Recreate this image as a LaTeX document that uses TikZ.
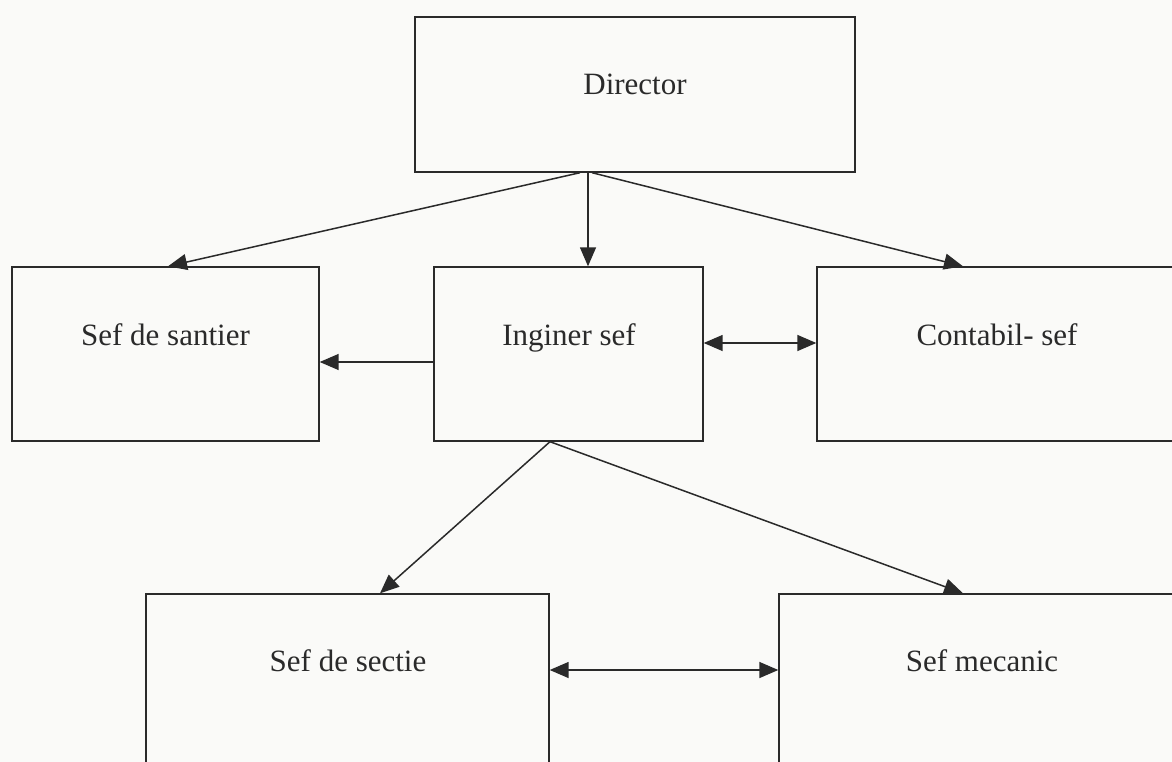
\documentclass[tikz,border=0pt]{standalone}
\usepackage{fontspec}
\setmainfont{Liberation Serif}
\usetikzlibrary{arrows.meta}
\definecolor{ink}{HTML}{2A2A2A}
\definecolor{paper}{HTML}{FAFAF8}
\begin{document}
\begin{tikzpicture}[x=1pt,y=-1pt,
  box/.style={draw=ink,line width=1.4pt,rectangle,inner sep=0pt},
  lbl/.style={anchor=base,inner sep=0pt,text=ink,font=\fontsize{31}{37}\selectfont},
  arr/.style={draw=ink,line width=1.5pt,-{Triangle[length=19pt,width=16pt]}},
  darr/.style={draw=ink,line width=1.5pt,{Triangle[length=19pt,width=16pt]}-{Triangle[length=19pt,width=16pt]}}]
\clip (0,0) rectangle (1172,762);
\fill[paper] (0,0) rectangle (1172,762);
% boxes
\node[box,minimum width=440pt,minimum height=155pt] (dir) at (635,94.5) {};
\node[box,minimum width=307pt,minimum height=174pt] (san) at (165.5,354) {};
\node[box,minimum width=269pt,minimum height=174pt] (ing) at (568.5,354) {};
\node[box,minimum width=360pt,minimum height=174pt] (con) at (997,354) {};
\node[box,minimum width=403pt,minimum height=174pt] (sec) at (347.5,681) {};
\node[box,minimum width=406pt,minimum height=174pt] (mec) at (982,681) {};
% labels
\node[lbl] (tdir) at (635,95) {Director};
\node[lbl] (tsan) at (165.5,345) {Sef de santier};
\node[lbl] (ting) at (569,345) {Inginer sef};
\node[lbl] (tcon) at (997,345) {Contabil- sef};
\node[lbl] (tsec) at (348,671) {Sef de sectie};
\node[lbl] (tmec) at (982,671) {Sef mecanic};
% connectors
\draw[arr] ([xshift=-55pt]dir.south) -- ([xshift=2.5pt]san.north);
\draw[arr] ([xshift=-47pt]dir.south) -- ([xshift=19.5pt]ing.north);
\draw[arr] ([xshift=-43pt]dir.south) -- ([xshift=-34pt]con.north);
\draw[arr] ([yshift=-8pt]ing.west) -- ([yshift=-8pt]san.east);
\draw[darr] ([yshift=11pt]ing.east) -- ([yshift=11pt]con.west);
\draw[arr] ([xshift=-18.5pt]ing.south) -- ([xshift=32.5pt]sec.north);
\draw[arr] ([xshift=-18.5pt]ing.south) -- ([xshift=-19pt]mec.north);
\draw[darr] ([yshift=11pt]sec.east) -- ([yshift=11pt]mec.west);
\end{tikzpicture}
\end{document}
